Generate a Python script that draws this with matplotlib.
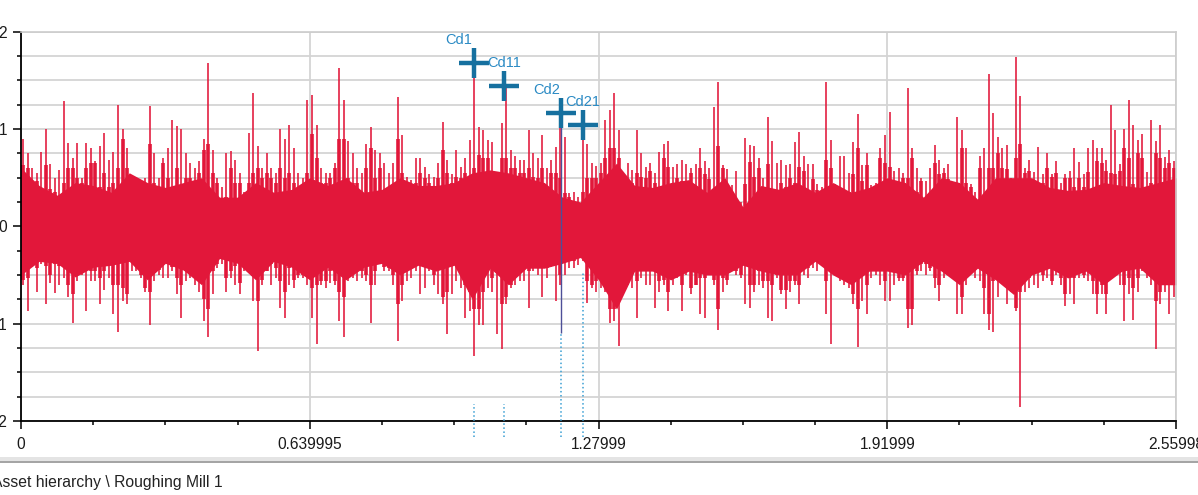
import matplotlib
matplotlib.use("Agg")
import numpy as np
import matplotlib.pyplot as plt
from matplotlib.ticker import AutoMinorLocator
from matplotlib.lines import Line2D
from matplotlib.patches import Rectangle

# peak of the trace in each 0.01 s bin
upper_peaks = [
    0.9, 0.75, 0.6, 0.55, 0.76, 1.0, 0.64, 0.5, 0.58, 1.29, 0.86, 0.7, 0.86, 0.5, 0.86, 0.8,
    0.67, 0.83, 0.96, 0.68, 0.76, 1.25, 1.0, 0.8, 0.45, 0.45, 0.47, 0.5, 1.24, 0.75, 0.5, 0.7,
    0.8, 1.09, 1.03, 1.0, 0.75, 0.65, 0.6, 0.67, 0.9, 1.68, 0.78, 0.5, 0.4, 0.75, 0.77, 0.68,
    0.55, 0.35, 0.96, 1.37, 0.83, 0.6, 0.75, 0.6, 0.55, 1.0, 0.9, 1.04, 0.8, 0.55, 0.5, 1.3,
    1.35, 1.04, 0.6, 0.55, 0.55, 0.65, 1.63, 1.3, 0.88, 0.75, 0.6, 0.55, 0.85, 1.02, 0.78, 0.75,
    0.65, 0.55, 0.65, 1.33, 0.94, 0.51, 0.48, 0.7, 0.7, 0.61, 0.54, 0.51, 0.65, 1.07, 0.68, 0.54,
    0.78, 0.61, 0.7, 0.89, 1.68, 1.02, 0.99, 0.89, 0.87, 0.5, 1.06, 1.45, 0.78, 0.72, 0.68, 0.68,
    0.99, 0.75, 0.7, 0.94, 0.6, 0.68, 0.82, 1.18, 0.92, 0.34, 0.35, 0.3, 1.04, 0.85, 0.65, 0.62,
    0.65, 1.09, 1.2, 1.37, 0.99, 0.55, 0.65, 0.58, 0.99, 0.75, 0.61, 0.65, 0.55, 0.76, 0.85, 0.88,
    0.61, 0.64, 0.68, 0.64, 0.6, 0.64, 0.81, 0.67, 0.6, 1.23, 1.48, 0.63, 0.59, 0.42, 0.57, 0.25,
    0.91, 0.84, 0.83, 0.7, 0.5, 1.12, 0.88, 0.65, 0.68, 0.63, 0.64, 0.87, 0.97, 0.72, 0.64, 0.64,
    0.44, 0.4, 1.48, 0.89, 0.44, 0.72, 0.72, 0.55, 0.87, 1.15, 0.63, 0.75, 0.42, 0.45, 0.8, 0.94,
    1.17, 0.57, 0.6, 0.55, 1.42, 0.81, 0.6, 0.5, 0.47, 0.6, 0.84, 0.68, 0.6, 0.64, 0.45, 1.12,
    0.99, 0.8, 0.44, 0.35, 0.72, 0.8, 1.57, 1.16, 0.92, 0.81, 0.84, 0.5, 1.74, 1.34, 0.6, 0.68,
    0.56, 0.82, 0.54, 0.75, 0.54, 0.67, 0.45, 0.54, 0.57, 0.81, 0.66, 0.54, 0.81, 0.89, 0.81, 0.8,
    0.68, 1.25, 0.99, 0.64, 1.0, 1.3, 1.04, 0.89, 0.95, 0.56, 1.09, 0.88, 1.04, 0.71, 0.78, 0.67,
]
lower_peaks = [
    -0.6, -0.87, -0.41, -0.67, -0.39, -0.8, -0.58, -0.68, -0.6, -0.53, -0.73, -0.99, -0.56, -0.5, -0.87, -0.56,
    -0.56, -0.8, -0.65, -0.53, -0.9, -1.09, -0.77, -0.8, -0.46, -0.46, -0.53, -0.67, -1.01, -0.56, -0.5, -0.53,
    -0.53, -0.46, -0.7, -0.94, -0.56, -0.53, -0.6, -0.67, -0.97, -1.14, -0.7, -0.43, -0.39, -0.67, -0.53, -0.6,
    -0.7, -0.46, -0.45, -0.77, -1.28, -0.6, -0.46, -0.6, -0.53, -0.84, -0.94, -0.6, -0.63, -0.53, -0.53, -0.6,
    -0.94, -1.21, -0.6, -0.63, -0.58, -0.6, -0.97, -1.14, -0.56, -0.53, -0.56, -0.53, -0.56, -0.99, -0.6, -0.39,
    -0.46, -0.46, -0.6, -1.18, -0.77, -0.56, -0.53, -0.46, -0.7, -0.63, -0.46, -0.6, -0.7, -0.8, -1.11, -0.7,
    -0.56, -0.63, -0.94, -0.87, -1.33, -1.01, -1.01, -0.63, -0.67, -1.11, -1.26, -0.8, -0.63, -0.6, -0.56, -0.56,
    -0.84, -0.46, -0.5, -0.73, -0.53, -0.42, -0.77, -0.6, -0.5, -0.43, -0.43, -0.4, -0.36, -0.79, -0.63, -0.67,
    -0.63, -0.67, -0.99, -0.97, -1.23, -0.46, -0.6, -0.63, -0.94, -0.53, -0.6, -0.6, -0.84, -0.67, -0.6, -0.87,
    -0.6, -0.53, -0.87, -0.5, -0.7, -0.6, -0.9, -0.94, -0.46, -0.6, -1.07, -0.67, -0.6, -0.46, -0.5, -0.53,
    -0.8, -0.84, -0.67, -0.6, -0.63, -0.94, -0.97, -0.53, -0.7, -0.85, -0.67, -0.6, -0.8, -0.5, -0.53, -0.43,
    -0.46, -0.4, -0.9, -1.21, -0.46, -0.56, -0.6, -0.63, -0.8, -1.24, -0.77, -0.9, -0.53, -0.5, -0.6, -0.77,
    -0.77, -0.6, -0.56, -0.56, -1.04, -1.01, -0.5, -0.46, -0.5, -0.46, -0.63, -0.77, -0.53, -0.4, -0.43, -0.9,
    -0.9, -0.6, -0.46, -0.53, -0.56, -0.9, -1.07, -1.09, -0.73, -0.53, -0.8, -0.67, -0.87, -1.86, -0.67, -0.63,
    -0.6, -0.63, -0.56, -0.53, -0.6, -0.5, -0.6, -0.82, -0.7, -0.8, -0.53, -0.53, -0.56, -0.7, -0.9, -0.7,
    -0.9, -0.53, -0.5, -0.6, -0.97, -0.7, -0.96, -0.67, -0.46, -0.53, -0.6, -1.26, -0.8, -0.67, -0.9, -0.73,
]
# level the dense fringe reaches in each 0.01 s bin
upper_shoulder = [
    0.63, 0.6, 0.45, 0.47, 0.33, 0.63, 0.38, 0.35, 0.2, 0.45, 0.6, 0.6, 0.5, 0.45, 0.6, 0.65,
    0.65, 0.4, 0.55, 0.4, 0.45, 0.6, 0.9, 0.6, 0.35, 0.35, 0.42, 0.45, 0.85, 0.45, 0.35, 0.65,
    0.5, 0.35, 0.6, 0.38, 0.5, 0.5, 0.45, 0.55, 0.78, 0.85, 0.55, 0.45, 0.2, 0.3, 0.6, 0.45,
    0.45, 0.2, 0.45, 0.55, 0.6, 0.5, 0.55, 0.5, 0.45, 0.6, 0.5, 0.55, 0.45, 0.2, 0.35, 0.55,
    0.95, 0.7, 0.45, 0.45, 0.5, 0.6, 0.9, 0.9, 0.5, 0.45, 0.45, 0.3, 0.6, 0.8, 0.5, 0.6,
    0.3, 0.3, 0.3, 0.9, 0.55, 0.46, 0.22, 0.45, 0.55, 0.5, 0.45, 0.41, 0.5, 0.78, 0.55, 0.45,
    0.51, 0.5, 0.55, 0.41, 0.6, 0.73, 0.7, 0.7, 0.51, 0.37, 0.7, 0.7, 0.6, 0.6, 0.55, 0.55,
    0.6, 0.51, 0.5, 0.6, 0.37, 0.55, 0.55, 0.5, 0.34, 0.3, 0.25, 0.2, 0.35, 0.5, 0.5, 0.5,
    0.55, 0.7, 0.8, 0.8, 0.7, 0.45, 0.37, 0.45, 0.55, 0.51, 0.5, 0.57, 0.45, 0.4, 0.7, 0.61,
    0.26, 0.5, 0.47, 0.47, 0.55, 0.4, 0.6, 0.54, 0.49, 0.37, 0.83, 0.6, 0.44, 0.32, 0.24, 0.16,
    0.44, 0.66, 0.51, 0.6, 0.37, 0.64, 0.28, 0.28, 0.45, 0.4, 0.5, 0.45, 0.61, 0.57, 0.3, 0.49,
    0.37, 0.23, 0.68, 0.6, 0.42, 0.3, 0.23, 0.35, 0.54, 0.81, 0.47, 0.63, 0.28, 0.4, 0.7, 0.65,
    0.61, 0.3, 0.26, 0.5, 0.5, 0.7, 0.35, 0.47, 0.2, 0.2, 0.65, 0.54, 0.55, 0.49, 0.27, 0.42,
    0.8, 0.45, 0.4, 0.25, 0.6, 0.26, 0.6, 0.6, 0.75, 0.6, 0.59, 0.37, 0.7, 0.85, 0.55, 0.57,
    0.26, 0.44, 0.45, 0.6, 0.51, 0.55, 0.37, 0.5, 0.5, 0.4, 0.5, 0.4, 0.56, 0.37, 0.67, 0.65,
    0.57, 0.55, 0.54, 0.57, 0.8, 0.7, 0.44, 0.75, 0.7, 0.26, 0.45, 0.75, 0.7, 0.6, 0.65, 0.6,
]
lower_shoulder = [
    -0.55, -0.53, -0.36, -0.43, -0.36, -0.41, -0.5, -0.39, -0.41, -0.36, -0.6, -0.7, -0.46, -0.43, -0.39, -0.46,
    -0.46, -0.53, -0.46, -0.39, -0.6, -0.6, -0.63, -0.7, -0.36, -0.39, -0.5, -0.63, -0.67, -0.39, -0.45, -0.39,
    -0.39, -0.42, -0.53, -0.6, -0.46, -0.46, -0.46, -0.56, -0.75, -0.85, -0.46, -0.39, -0.33, -0.53, -0.46, -0.41,
    -0.58, -0.39, -0.39, -0.51, -0.77, -0.55, -0.46, -0.39, -0.43, -0.56, -0.67, -0.43, -0.55, -0.5, -0.5, -0.46,
    -0.63, -0.6, -0.56, -0.56, -0.46, -0.56, -0.67, -0.73, -0.46, -0.46, -0.46, -0.46, -0.5, -0.6, -0.46, -0.37,
    -0.42, -0.43, -0.5, -0.8, -0.6, -0.39, -0.36, -0.36, -0.33, -0.39, -0.43, -0.5, -0.43, -0.73, -0.67, -0.39,
    -0.39, -0.46, -0.6, -0.67, -0.85, -0.85, -0.67, -0.39, -0.53, -0.39, -0.8, -0.73, -0.6, -0.46, -0.46, -0.43,
    -0.46, -0.36, -0.39, -0.43, -0.43, -0.33, -0.39, -0.5, -0.36, -0.36, -0.36, -0.33, -0.33, -0.56, -0.6, -0.56,
    -0.5, -0.53, -0.85, -0.85, -0.75, -0.39, -0.5, -0.39, -0.56, -0.43, -0.46, -0.46, -0.43, -0.56, -0.55, -0.67,
    -0.46, -0.5, -0.6, -0.46, -0.63, -0.6, -0.53, -0.53, -0.43, -0.55, -0.85, -0.53, -0.55, -0.43, -0.46, -0.5,
    -0.39, -0.6, -0.6, -0.46, -0.56, -0.56, -0.6, -0.5, -0.65, -0.65, -0.56, -0.56, -0.6, -0.36, -0.43, -0.36,
    -0.33, -0.36, -0.56, -0.46, -0.43, -0.46, -0.43, -0.5, -0.7, -0.85, -0.46, -0.6, -0.46, -0.43, -0.43, -0.56,
    -0.46, -0.46, -0.53, -0.53, -0.85, -0.85, -0.46, -0.39, -0.39, -0.43, -0.53, -0.6, -0.46, -0.39, -0.39, -0.53,
    -0.73, -0.46, -0.39, -0.43, -0.39, -0.63, -0.9, -0.56, -0.5, -0.46, -0.6, -0.6, -0.84, -0.67, -0.53, -0.53,
    -0.46, -0.46, -0.5, -0.43, -0.56, -0.43, -0.53, -0.7, -0.53, -0.53, -0.46, -0.5, -0.46, -0.56, -0.7, -0.6,
    -0.7, -0.46, -0.43, -0.43, -0.6, -0.53, -0.63, -0.53, -0.39, -0.39, -0.39, -0.77, -0.67, -0.53, -0.53, -0.46,
]
# fully solid body of the trace, every 0.04 s
core_hi = [
    0.6, 0.42, 0.32, 0.45, 0.42, 0.35, 0.55, 0.45, 0.4, 0.45, 0.5, 0.3, 0.3, 0.45, 0.35, 0.38,
    0.5, 0.42, 0.5, 0.35, 0.38, 0.5, 0.42, 0.42, 0.45, 0.55, 0.58, 0.55, 0.5, 0.45, 0.3, 0.25,
    0.45, 0.65, 0.42, 0.4, 0.45, 0.48, 0.35, 0.5, 0.2, 0.42, 0.38, 0.45, 0.35, 0.45, 0.35, 0.4,
    0.5, 0.45, 0.3, 0.5, 0.45, 0.28, 0.5, 0.5, 0.5, 0.4, 0.37, 0.38, 0.45, 0.42, 0.4, 0.45, 0.5,
]
core_lo = [
    -0.5, -0.36, -0.38, -0.52, -0.42, -0.4, -0.36, -0.55, -0.38, -0.45, -0.6, -0.33, -0.38, -0.55, -0.36, -0.42,
    -0.55, -0.42, -0.55, -0.42, -0.38, -0.5, -0.4, -0.46, -0.4, -0.75, -0.43, -0.6, -0.43, -0.43, -0.38, -0.32,
    -0.55, -0.85, -0.46, -0.46, -0.55, -0.46, -0.5, -0.5, -0.4, -0.46, -0.5, -0.5, -0.36, -0.5, -0.6, -0.46,
    -0.46, -0.5, -0.36, -0.46, -0.6, -0.43, -0.55, -0.7, -0.5, -0.43, -0.53, -0.46, -0.6, -0.46, -0.43, -0.6, -0.6,
]

cursor_names = ["Cd1", "Cd11", "Cd2", "Cd21"]
cursor_x = [1.004, 1.0705, 1.197, 1.2456]
cursor_y = [1.675, 1.446, 1.169, 1.046]

x_ticks = [0, 0.639995, 1.27999, 1.91999, 2.55998]
x_labels = ["0", "0.639995", "1.27999", "1.91999", "2.55998"]
y_ticks = [-2, -1, 0, 1, 2]
y_labels = ["-2", "-1", "0", "1", "2"]

footer = "Asset hierarchy \\ Roughing Mill 1"

RED = "#e2173a"
CROSS = "#16709f"
CURSOR_TXT = "#2a8ac4"
DOTS = "#3a9fd3"

plt.rcParams["font.family"] = ["Liberation Sans", "DejaVu Sans"]

W, H = 1198, 495
fig = plt.figure(figsize=(W / 100, H / 100), dpi=100)
ax = fig.add_axes([21 / W, 74 / H, 1155 / W, 389.3 / H])

step = 0.01
t_peak = np.arange(len(upper_peaks)) * step + step / 2
t_core = np.arange(len(core_hi)) * 0.04

ax.fill_between(t_core, core_lo, core_hi, color=RED, lw=0, zorder=2)
ax.vlines(t_peak, lower_shoulder, upper_shoulder, color=RED, lw=2.6, zorder=2)
ax.vlines(t_peak, 0, upper_peaks, color=RED, lw=1.15, zorder=2)
ax.vlines(t_peak, lower_peaks, 0, color=RED, lw=1.15, zorder=2)

# cursor lines (short dotted stubs below the trace)
y_bot = -2.165
ax.vlines(cursor_x[:2], y_bot, -1.826, colors=DOTS, linestyles=":", lw=1.1,
          clip_on=False, zorder=4)
ax.vlines(cursor_x[2], -1.097, cursor_y[2], colors="#4d4f98", lw=1.0, zorder=4)
ax.vlines(cursor_x[2], y_bot, -1.097, colors=DOTS, linestyles=":", lw=1.1,
          clip_on=False, zorder=4)
ax.vlines(cursor_x[3], y_bot, -0.48, colors=DOTS, linestyles=":", lw=1.1,
          clip_on=False, zorder=4)

ax.plot(cursor_x, cursor_y, ls="none", marker="+", ms=22, mew=3.2,
        color=CROSS, zorder=6)
label_dx = {"Cd1": -15, "Cd11": 0, "Cd2": -14, "Cd21": 0}
for name, cx, cy in zip(cursor_names, cursor_x, cursor_y):
    ax.annotate(name, (cx, cy), xytext=(label_dx[name], 23),
                textcoords="offset pixels", ha="center", va="center",
                fontsize=10.5, color=CURSOR_TXT, zorder=7)

ax.set_xlim(0, 2.55998)
ax.set_ylim(-2, 2)
ax.set_xticks(x_ticks, x_labels)
ax.set_yticks(y_ticks, y_labels)
ax.xaxis.set_minor_locator(AutoMinorLocator(4))
ax.yaxis.set_minor_locator(AutoMinorLocator(4))

ax.tick_params(axis="x", which="major", length=5.4, width=1.1, pad=6.1,
               labelsize=11.2, labelcolor="#1a1a1a")
ax.tick_params(axis="x", which="minor", length=2.6, width=1.1)
ax.tick_params(axis="y", which="major", length=5.8, width=1.1, pad=4.3,
               labelsize=11.2, labelcolor="#1a1a1a")
ax.tick_params(axis="y", which="minor", length=2.9, width=1.1)

ax.set_axisbelow(True)
ax.grid(True, axis="x", which="major", color="#d4d4d4", lw=1.3)
ax.grid(True, axis="y", which="both", color="#d4d4d4", lw=1.3)

for side in ("left", "bottom"):
    ax.spines[side].set_color("black")
    ax.spines[side].set_linewidth(1.3)
for side in ("top", "right"):
    ax.spines[side].set_color("#cccccc")
    ax.spines[side].set_linewidth(1.2)

# status bar under the chart
fig.add_artist(Rectangle((0, (H - 461) / H), 1, 4.3 / H, transform=fig.transFigure,
                         color="#e4e4e4", lw=0))
fig.add_artist(Line2D([0, 1], [(H - 461.8) / H] * 2, transform=fig.transFigure,
                      color="#9c9c9c", lw=1.3))
fig.text(-8.5 / W, 8 / H, footer, fontsize=11.3, va="baseline", color="#222222")

fig.savefig("out.png", dpi=100)
